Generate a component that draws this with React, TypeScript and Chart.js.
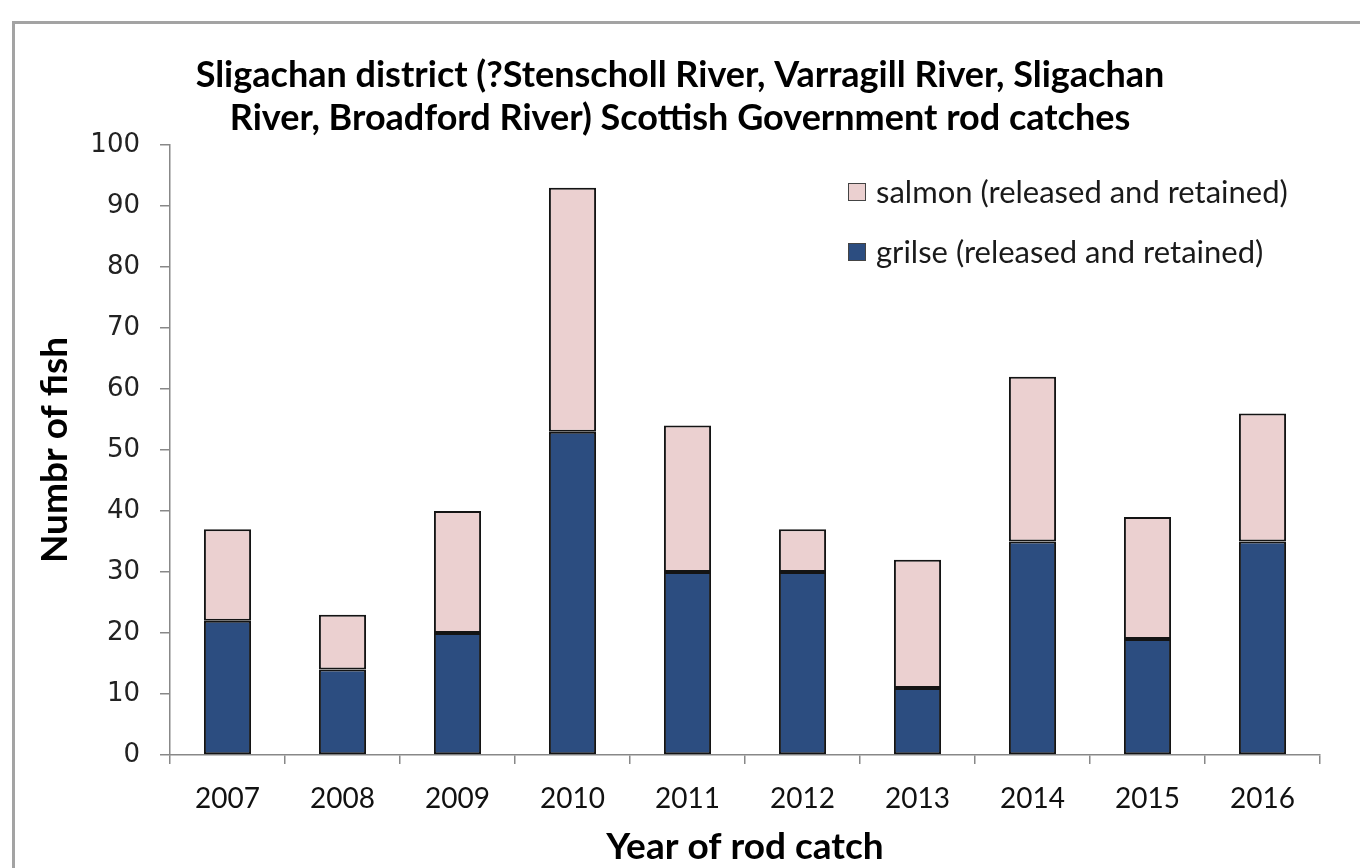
import React, { useEffect, useRef } from 'react';
import { Chart, registerables } from 'chart.js';

Chart.register(...registerables);

const categories = ['2007', '2008', '2009', '2010', '2011', '2012', '2013', '2014', '2015', '2016'];
const grilse = [22, 14, 20, 53, 30, 30, 11, 35, 19, 35];
const salmon = [15, 9, 20, 40, 24, 7, 21, 27, 20, 21];
const yMin = 0;
const yMax = 100;
const yStep = 10;
const titleLines = [
  'Sligachan district (?Stenscholl River, Varragill River, Sligachan',
  'River, Broadford River) Scottish Government rod catches',
];
const xTitle = 'Year of rod catch';
const yTitle = 'Numbr of fish';
const grilseLabel = 'grilse (released and retained)';
const salmonLabel = 'salmon (released and retained)';
const grilseColor = '#2c4d80';
const salmonColor = '#ebd0d0';

const insideLegend = {
  id: 'insideLegend',
  afterDraw(chart: any) {
    const ctx = chart.ctx;
    const items = chart.data.datasets.slice().reverse();
    ctx.save();
    ctx.font = '31px Lato';
    ctx.textBaseline = 'middle';
    ctx.textAlign = 'left';
    items.forEach((ds: any, i: number) => {
      const y = 192 + i * 60;
      const x = 848;
      ctx.fillStyle = ds.backgroundColor;
      ctx.fillRect(x, y - 9, 18, 18);
      ctx.strokeStyle = '#444';
      ctx.lineWidth = 1;
      ctx.strokeRect(x + 0.5, y - 8.5, 17, 17);
      ctx.fillStyle = '#1a1a1a';
      ctx.fillText(ds.label, x + 28, y + 1);
    });
    ctx.restore();
  },
};

export default function App() {
  const ref = useRef<HTMLCanvasElement | null>(null);
  useEffect(() => {
    if (!ref.current) return;
    const chart = new Chart(ref.current, {
      type: 'bar',
      data: {
        labels: categories,
        datasets: [
          {
            label: grilseLabel,
            data: grilse,
            backgroundColor: grilseColor,
            borderColor: '#141414',
            borderWidth: 2,
            borderSkipped: false,
          },
          {
            label: salmonLabel,
            data: salmon,
            backgroundColor: salmonColor,
            borderColor: '#141414',
            borderWidth: 2,
            borderSkipped: false,
          },
        ],
      },
      options: {
        animation: false,
        responsive: false,
        datasets: { bar: { categoryPercentage: 1, barPercentage: 0.41 } },
        layout: { padding: { top: 24, left: 40, right: 40, bottom: 0 } },
        plugins: {
          legend: { display: false },
          tooltip: { enabled: false },
          title: {
            display: true,
            text: titleLines,
            color: '#000',
            font: { family: 'Lato', size: 36, weight: 'bold', lineHeight: 43 / 36 },
            padding: { top: 29.5, bottom: 5.5 },
          },
        },
        scales: {
          x: {
            stacked: true,
            grid: { display: true, drawOnChartArea: false, offset: true, tickLength: 9, color: '#888', lineWidth: 1.5 },
            border: { color: '#888', width: 1.5 },
            ticks: { font: { family: 'Lato', size: 28 }, color: '#111', padding: 18, maxRotation: 0 },
            title: {
              display: true,
              text: xTitle,
              color: '#000',
              font: { family: 'Lato', size: 37, weight: 'bold', lineHeight: 1.0 },
              padding: { top: 0, bottom: 2 },
            },
            afterFit: (s: any) => { s.height = 113; },
          },
          y: {
            stacked: true,
            min: yMin,
            max: yMax,
            ticks: { stepSize: yStep, font: { family: 'DejaVu Sans', size: 26 }, color: '#222', padding: 20 },
            grid: { drawOnChartArea: false, tickLength: 10, color: '#888', lineWidth: 1.5 },
            border: { color: '#888', width: 1.5 },
            title: {
              display: true,
              text: yTitle,
              color: '#000',
              font: { family: 'Lato', size: 37, weight: 'bold', lineHeight: 0.8 },
              padding: { top: 0, bottom: 0 },
            },
            afterFit: (s: any) => { s.width = 130; },
          },
        },
      },
      plugins: [insideLegend],
    });
    return () => chart.destroy();
  }, []);

  return (
    <div style={{ position: 'fixed', left: 0, top: 0, width: 1360, height: 868, overflow: 'hidden', background: '#fff' }}>
      <canvas ref={ref} width={1360} height={868} style={{ display: 'block', width: 1360, height: 868 }} />
      <div
        style={{
          position: 'absolute', left: 12, top: 21, width: 1400, height: 900,
          borderTop: '3px solid #a3a3a3', borderLeft: '3px solid #a3a3a3', pointerEvents: 'none',
        }}
      />
    </div>
  );
}
